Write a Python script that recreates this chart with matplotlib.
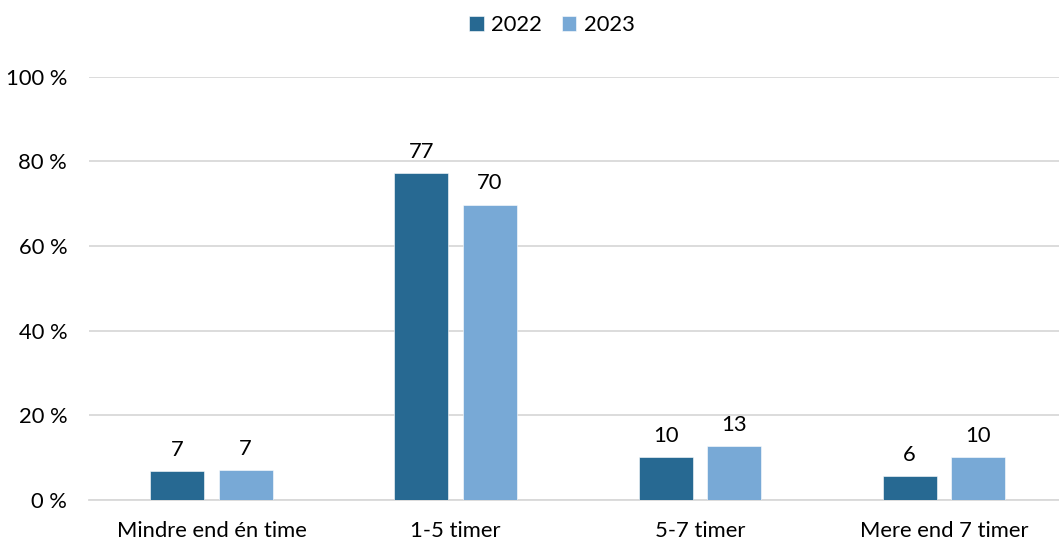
import matplotlib
matplotlib.use("Agg")
import matplotlib.pyplot as plt
import numpy as np

categories = ["Mindre end én time", "1-5 timer", "5-7 timer", "Mere end 7 timer"]
series_names = ["2022", "2023"]
values_2022 = [6.9, 77.2, 10.1, 5.7]
values_2023 = [7.1, 69.8, 12.7, 10.2]
labels_2022 = ["7", "77", "10", "6"]
labels_2023 = ["7", "70", "13", "10"]
yticks = [0, 20, 40, 60, 80, 100]
ytick_labels = ["0 %", "20 %", "40 %", "60 %", "80 %", "100 %"]

colors = ["#276992", "#78A9D6"]
plt.rcParams['font.family'] = ['Lato', 'DejaVu Sans']
FS = 15.8

fig = plt.figure(figsize=(10.59, 5.41), dpi=100)
W, H = 1059, 541
ax = fig.add_axes([89.4 / W, 1 - 500 / H, (1066 - 89.4) / W, (500 - 76.7) / H])

x = np.arange(len(categories))
bw = 0.221
gap = 0.059
off = (bw + gap) / 2
b1 = ax.bar(x - off, values_2022, bw, color=colors[0], label=series_names[0], zorder=3,
            edgecolor="white", linewidth=0.4)
b2 = ax.bar(x + off, values_2023, bw, color=colors[1], label=series_names[1], zorder=3,
            edgecolor="white", linewidth=0.4)
for bars, labs in ((b1, labels_2022), (b2, labels_2023)):
    for r, lab in zip(bars, labs):
        ax.annotate(lab, (r.get_x() + r.get_width() / 2, r.get_height()),
                    xytext=(0, 8), textcoords="offset points", ha="center", va="bottom",
                    fontsize=FS, color="#000000")

ax.set_xlim(-0.5, len(categories) - 0.5)
ax.set_ylim(0, 100)
ax.set_yticks(yticks)
ax.set_yticklabels(ytick_labels)
ax.set_xticks(x)
ax.set_xticklabels(categories)
ax.tick_params(axis="both", length=0, labelsize=FS, colors="#000000")
ax.tick_params(axis="y", pad=16)
ax.tick_params(axis="x", pad=15)
ax.yaxis.grid(True, color="#D9D9D9", linewidth=1.3, zorder=0)
ax.set_axisbelow(True)
for s in ["top", "right", "left"]:
    ax.spines[s].set_visible(False)
ax.spines["bottom"].set_color("#D9D9D9")
ax.spines["bottom"].set_linewidth(1.3)

fig.legend(handles=[b1, b2], labels=series_names, loc="center", bbox_to_anchor=(552 / W, 1 - 25 / H),
           ncol=2, frameon=False, fontsize=FS, handlelength=0.65, handleheight=0.65,
           handletextpad=0.35, columnspacing=0.9)

fig.savefig("out.png", dpi=100)
